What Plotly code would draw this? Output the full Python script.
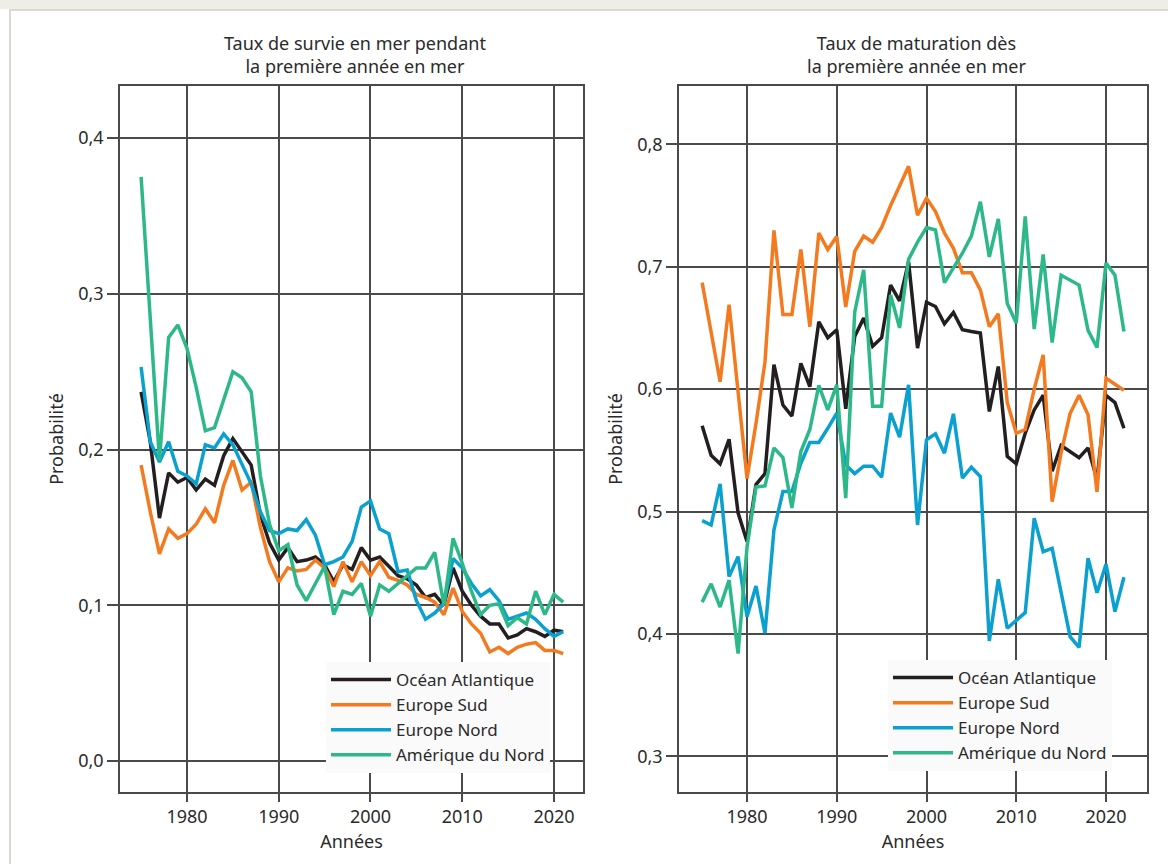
import plotly.graph_objects as go

W, H = 1168, 864

# Données
annees_survie = list(range(1975, 2022))
annees_matur = list(range(1975, 2023))

# Taux de survie (panneau gauche)
survie_atlantique = [0.237, 0.205, 0.156, 0.185, 0.179, 0.182, 0.174, 0.181, 0.177, 0.196,
                     0.207, 0.198, 0.190, 0.158, 0.140, 0.129, 0.137, 0.128, 0.129, 0.131,
                     0.126, 0.115, 0.126, 0.123, 0.137, 0.129, 0.131, 0.125, 0.119, 0.117,
                     0.113, 0.105, 0.107, 0.100, 0.124, 0.109, 0.100, 0.093, 0.088, 0.088,
                     0.079, 0.081, 0.085, 0.083, 0.080, 0.084, 0.083]
survie_sud = [0.190, 0.160, 0.133, 0.149, 0.143, 0.146, 0.152, 0.162, 0.153, 0.177,
              0.193, 0.174, 0.179, 0.150, 0.128, 0.115, 0.124, 0.122, 0.123, 0.129,
              0.124, 0.112, 0.128, 0.115, 0.128, 0.119, 0.128, 0.118, 0.116, 0.113,
              0.107, 0.105, 0.102, 0.094, 0.111, 0.096, 0.088, 0.082, 0.070, 0.073,
              0.069, 0.073, 0.075, 0.076, 0.071, 0.071, 0.069]
survie_nord = [0.253, 0.205, 0.192, 0.205, 0.186, 0.183, 0.178, 0.203, 0.201, 0.210,
               0.203, 0.190, 0.178, 0.160, 0.148, 0.146, 0.149, 0.148, 0.155, 0.145,
               0.126, 0.128, 0.131, 0.141, 0.163, 0.167, 0.149, 0.146, 0.1215, 0.1226,
               0.103, 0.091, 0.095, 0.101, 0.130, 0.124, 0.114, 0.106, 0.110, 0.103,
               0.091, 0.093, 0.095, 0.091, 0.085, 0.080, 0.083]
survie_amerique = [0.375, 0.285, 0.193, 0.272, 0.280, 0.265, 0.240, 0.212, 0.214, 0.232,
                   0.250, 0.246, 0.237, 0.183, 0.152, 0.135, 0.139, 0.113, 0.103, 0.114,
                   0.125, 0.094, 0.109, 0.107, 0.114, 0.093, 0.113, 0.109, 0.114, 0.119,
                   0.124, 0.124, 0.134, 0.100, 0.143, 0.127, 0.109, 0.094, 0.100, 0.101,
                   0.087, 0.092, 0.088, 0.109, 0.094, 0.107, 0.102]

# Taux de maturation (panneau droit)
matur_atlantique = [0.570, 0.546, 0.539, 0.559, 0.499, 0.4755, 0.522, 0.531, 0.620, 0.587,
                    0.578, 0.621, 0.602, 0.655, 0.642, 0.6485, 0.584, 0.643, 0.658, 0.635,
                    0.642, 0.685, 0.672, 0.704, 0.6335, 0.671, 0.6675, 0.6534, 0.6626, 0.6485,
                    0.647, 0.6458, 0.5817, 0.6185, 0.545, 0.539, 0.564, 0.583, 0.595, 0.533,
                    0.554, 0.549, 0.544, 0.552, 0.526, 0.595, 0.589, 0.568]
matur_sud = [0.687, 0.645, 0.606, 0.669, 0.598, 0.527, 0.572, 0.622, 0.7296, 0.661,
             0.661, 0.714, 0.651, 0.7275, 0.714, 0.7247, 0.667, 0.7125, 0.725, 0.720,
             0.732, 0.750, 0.766, 0.782, 0.742, 0.756, 0.745, 0.7275, 0.715, 0.695,
             0.695, 0.681, 0.651, 0.6615, 0.589, 0.564, 0.567, 0.600, 0.628, 0.508,
             0.548, 0.580, 0.595, 0.579, 0.516, 0.609, 0.604, 0.599]
matur_nord = [0.4926, 0.489, 0.5226, 0.4468, 0.4632, 0.414, 0.4392, 0.4006, 0.485, 0.5163,
              0.5163, 0.5395, 0.5564, 0.5564, 0.568, 0.5804, 0.538, 0.531, 0.537, 0.537,
              0.528, 0.5804, 0.5608, 0.6035, 0.489, 0.5586, 0.5635, 0.5477, 0.5798, 0.5273,
              0.5362, 0.5286, 0.3943, 0.4447, 0.4047, 0.411, 0.4174, 0.4946, 0.4673, 0.470,
              0.434, 0.3978, 0.3891, 0.4619, 0.4337, 0.457, 0.4182, 0.4463]
matur_amerique = [0.426, 0.441, 0.422, 0.444, 0.384, 0.471, 0.520, 0.521, 0.552, 0.544,
                  0.503, 0.549, 0.567, 0.603, 0.583, 0.6035, 0.511, 0.663, 0.6975, 0.586,
                  0.586, 0.677, 0.650, 0.706, 0.720, 0.732, 0.730, 0.687, 0.699, 0.711,
                  0.725, 0.753, 0.708, 0.739, 0.670, 0.654, 0.741, 0.649, 0.710, 0.638,
                  0.693, 0.689, 0.685, 0.648, 0.634, 0.703, 0.693, 0.647]

noms = ['Océan Atlantique', 'Europe Sud', 'Europe Nord', 'Amérique du Nord']
couleurs = ['#231f20', '#f47a20', '#0aa0d0', '#2db88a']

texte = '#2b2b2b'
grille = '#4a4a4a'
police = 'Noto Sans'

fig = go.Figure()

# Panneau gauche
for nom, coul, serie in zip(noms, couleurs,
                            [survie_atlantique, survie_sud, survie_nord, survie_amerique]):
    fig.add_trace(go.Scatter(
        x=annees_survie, y=serie, name=nom, mode='lines',
        line=dict(color=coul, width=3.5),
        xaxis='x', yaxis='y', legend='legend'
    ))

# Panneau droit
for nom, coul, serie in zip(noms, couleurs,
                            [matur_atlantique, matur_sud, matur_nord, matur_amerique]):
    fig.add_trace(go.Scatter(
        x=annees_matur, y=serie, name=nom, mode='lines',
        line=dict(color=coul, width=3.5),
        xaxis='x2', yaxis='y2', legend='legend2'
    ))

axe_x = dict(
    tickvals=[1980, 1990, 2000, 2010, 2020], tickformat='d',
    showgrid=True, gridcolor=grille, gridwidth=1.5,
    showline=True, linecolor=grille, linewidth=1.5, mirror=True,
    ticks='outside', ticklen=8, tickcolor=grille, tickwidth=1.5,
    zeroline=False,
    tickfont=dict(size=18, color=texte),
    title=dict(text='Années', font=dict(size=18, color=texte), standoff=8),
)
axe_y = dict(
    tickformat='.1f',
    showgrid=True, gridcolor=grille, gridwidth=1.5,
    showline=True, linecolor=grille, linewidth=1.5, mirror=True,
    ticks='outside', ticklen=11, tickcolor=grille, tickwidth=1.5,
    zeroline=False,
    tickfont=dict(size=18, color=texte),
    title=dict(text='Probabilité', font=dict(size=18, color=texte), standoff=10),
)

legende = dict(
    bgcolor='#fafafa', borderwidth=0,
    font=dict(size=17, color=texte, family=police),
    xanchor='left', yanchor='top', tracegroupgap=0, itemwidth=60,
)

fig.update_layout(
    width=W, height=H,
    margin=dict(l=0, r=0, t=0, b=0),
    paper_bgcolor='white', plot_bgcolor='white',
    font=dict(family=police, color=texte),
    separators=', ',
    xaxis=dict(axe_x, domain=[120 / W, 583 / W], range=[1972.70, 2023.16], anchor='y'),
    yaxis=dict(axe_y, domain=[1 - 792 / H, 1 - 86 / H], range=[-0.0199, 0.4334],
               tickvals=[0.0, 0.1, 0.2, 0.3, 0.4], anchor='x'),
    xaxis2=dict(axe_x, domain=[679 / W, 1147 / W], range=[1972.42, 2024.57], anchor='y2'),
    yaxis2=dict(axe_y, domain=[1 - 792 / H, 1 - 86 / H], range=[0.2709, 0.8476],
                tickvals=[0.3, 0.4, 0.5, 0.6, 0.7, 0.8], anchor='x2'),
    legend=dict(legende, x=326 / W, y=1 - 662 / H),
    legend2=dict(legende, x=888 / W, y=1 - 660 / H),
    annotations=[
        dict(text='Taux de survie en mer pendant<br>la première année en mer',
             x=355 / W, y=1 - 54 / H, xref='paper', yref='paper',
             xanchor='center', yanchor='middle', align='center',
             showarrow=False, font=dict(size=18, color=texte)),
        dict(text='Taux de maturation dès<br>la première année en mer',
             x=917 / W, y=1 - 54 / H, xref='paper', yref='paper',
             xanchor='center', yanchor='middle', align='center',
             showarrow=False, font=dict(size=18, color=texte)),
    ],
    shapes=[
        dict(type='rect', xref='paper', yref='paper', x0=0, x1=1,
             y0=1 - 9 / H, y1=1, fillcolor='#efede8', line=dict(width=0), layer='below'),
        dict(type='line', xref='paper', yref='paper', x0=10 / W, x1=10 / W,
             y0=0, y1=1 - 9 / H, line=dict(color='#ddd8cc', width=2)),
        dict(type='line', xref='paper', yref='paper', x0=10 / W, x1=1,
             y0=1 - 10 / H, y1=1 - 10 / H, line=dict(color='#ddd8cc', width=2)),
    ],
)

# la page est affichée sans la marge par défaut du navigateur
fig.write_html('out.html', config={'displayModeBar': False},
               post_script="document.body.style.margin='0';")
